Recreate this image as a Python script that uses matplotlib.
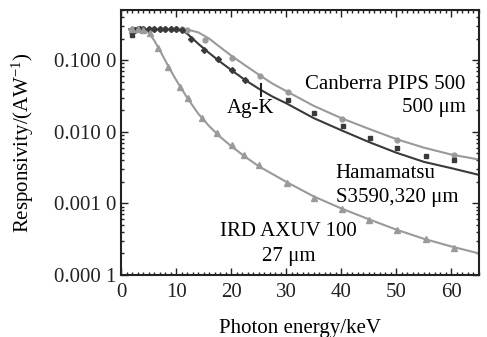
import matplotlib
matplotlib.use("Agg")
import matplotlib.pyplot as plt
from matplotlib.ticker import FixedLocator, MultipleLocator, NullFormatter

plt.rcParams['font.family'] = ['Liberation Serif', 'DejaVu Serif']
plt.rcParams['mathtext.fontset'] = 'custom'
plt.rcParams['mathtext.rm'] = 'Liberation Serif'
plt.rcParams['mathtext.it'] = 'Liberation Serif:italic'

# Fitted curves (energy in keV, responsivity in A/W)
canb_line_e = [1.5, 4, 8, 11, 12.5, 14, 16, 18, 20, 22.5, 25, 27.5, 30, 35, 40, 45, 50, 55, 60, 65]
canb_line_r = [0.27, 0.272, 0.272, 0.27, 0.262, 0.245, 0.2, 0.152, 0.116, 0.085, 0.063, 0.047, 0.037,
               0.023, 0.0155, 0.011, 0.0079, 0.006, 0.0048, 0.0041]
hama_line_e = [1.5, 4, 8, 10, 11, 12, 14, 16, 18, 20, 22.5, 25, 27.5, 30, 35, 40, 45, 50, 55, 60, 65]
hama_line_r = [0.27, 0.272, 0.272, 0.27, 0.262, 0.235, 0.17, 0.126, 0.095, 0.073, 0.053, 0.04, 0.031,
               0.025, 0.0155, 0.0105, 0.0072, 0.0051, 0.0038, 0.0031, 0.0025]
ird_line_e = [1.5, 3, 4, 5, 6, 7, 8, 9, 10, 12, 14, 16, 18, 20, 22.5, 25, 30, 35, 40, 45, 50, 55, 60, 65]
ird_line_r = [0.27, 0.272, 0.27, 0.245, 0.19, 0.14, 0.1, 0.072, 0.053, 0.03, 0.018, 0.012, 0.0085,
              0.0063, 0.0045, 0.0033, 0.002, 0.00125, 0.00085, 0.0006, 0.00043, 0.00032, 0.00025, 0.0002]

# Measured points
canb_pts_e = [2, 3, 4, 5, 6, 7, 8, 9, 10, 11, 12, 15.3, 20.2, 25.3, 30.4, 40.2, 50.2, 60.4]
canb_pts_r = [0.27, 0.272, 0.272, 0.272, 0.272, 0.272, 0.272, 0.272, 0.272, 0.27, 0.268,
              0.19, 0.106, 0.06, 0.036, 0.0151, 0.0077, 0.0047]
hama_dia_e = [2, 2.5, 3, 3.5, 4, 5, 6, 7, 8, 9, 10, 11, 12.7, 15.1, 17.6, 20.2, 22.5]
hama_dia_r = [0.25, 0.26, 0.27, 0.272, 0.272, 0.272, 0.272, 0.272, 0.272, 0.272, 0.27, 0.265,
              0.2, 0.14, 0.103, 0.073, 0.053]
hama_sq_e = [2, 30.4, 35.1, 40.3, 45.3, 50.2, 55.3, 60.4]
hama_sq_r = [0.225, 0.028, 0.018, 0.012, 0.0083, 0.006, 0.0046, 0.0041]
ird_pts_e = [2, 3, 4, 5.3, 6.8, 8.5, 10.7, 12.2, 14.7, 17.5, 20.2, 22.4, 25, 30.2, 35.1, 40.2,
             45.1, 50.2, 55.3, 60.4]
ird_pts_r = [0.27, 0.272, 0.268, 0.24, 0.15, 0.08, 0.042, 0.03, 0.0157, 0.0097, 0.0066, 0.0048,
             0.0034, 0.00195, 0.0012, 0.00083, 0.00058, 0.00042, 0.00032, 0.00024]

ytick_vals = [0.0001, 0.001, 0.01, 0.1]
ytick_labels = ['0.000 1', '0.001 0', '0.010 0', '0.100 0']

dark = '#3a3a3a'
light = '#9a9a9a'
fs = 15

fig = plt.figure(figsize=(4.87, 3.37), dpi=100)
ax = fig.add_axes([0.2485, 0.184, 0.735, 0.786])

ax.plot(canb_line_e, canb_line_r, color=light, lw=1.5)
ax.plot(hama_line_e, hama_line_r, color=dark, lw=1.5)
ax.plot(ird_line_e, ird_line_r, color=light, lw=1.5)

ax.plot(canb_pts_e, canb_pts_r, 'o', color=light, ms=3.5, ls='none')
ax.plot(hama_dia_e, hama_dia_r, 'D', color=dark, ms=3, ls='none')
ax.plot(hama_sq_e, hama_sq_r, 's', color=dark, ms=3.5, ls='none')
ax.plot(ird_pts_e, ird_pts_r, '^', color=light, ms=4, ls='none')

# Ag-K edge marker
ax.plot([25.4, 25.4], [0.047, 0.032], color='#222222', lw=1.5)
ax.text(23.6, 0.021, 'Ag-K', ha='center', va='center', fontsize=fs)

ax.text(62.6, 0.046, 'Canberra PIPS 500', ha='right', va='center', fontsize=fs)
ax.text(62.6, 0.0215, '500 μm', ha='right', va='center', fontsize=fs)
ax.text(39.0, 0.0026, 'Hamamatsu', ha='left', va='center', fontsize=fs)
ax.text(39.0, 0.00122, 'S3590,320 μm', ha='left', va='center', fontsize=fs)
ax.text(30.4, 0.00041, 'IRD AXUV 100', ha='center', va='center', fontsize=fs)
ax.text(30.4, 0.000183, '27 μm', ha='center', va='center', fontsize=fs)

ax.set_yscale('log')
ax.set_xlim(0, 65)
ax.set_ylim(0.0001, 0.5)

ax.yaxis.set_major_locator(FixedLocator(ytick_vals))
ax.set_yticklabels(ytick_labels)
ax.yaxis.set_minor_formatter(NullFormatter())
ax.xaxis.set_major_locator(MultipleLocator(10))
ax.xaxis.set_minor_locator(MultipleLocator(1))

ax.tick_params(which='both', direction='in', top=True, right=True, labelsize=fs,
               width=1.0, colors='#222222')
ax.tick_params(axis='x', pad=6)
ax.tick_params(which='major', length=5)
ax.tick_params(which='minor', length=2.5)
for sp in ax.spines.values():
    sp.set_linewidth(1.5)
    sp.set_color('#222222')

ax.set_xlabel('Photon energy/keV', fontsize=fs, labelpad=12)
ax.set_ylabel('Responsivity/(AW$^{-1}$)', fontsize=fs, labelpad=13)

fig.savefig('out.png', dpi=100)
